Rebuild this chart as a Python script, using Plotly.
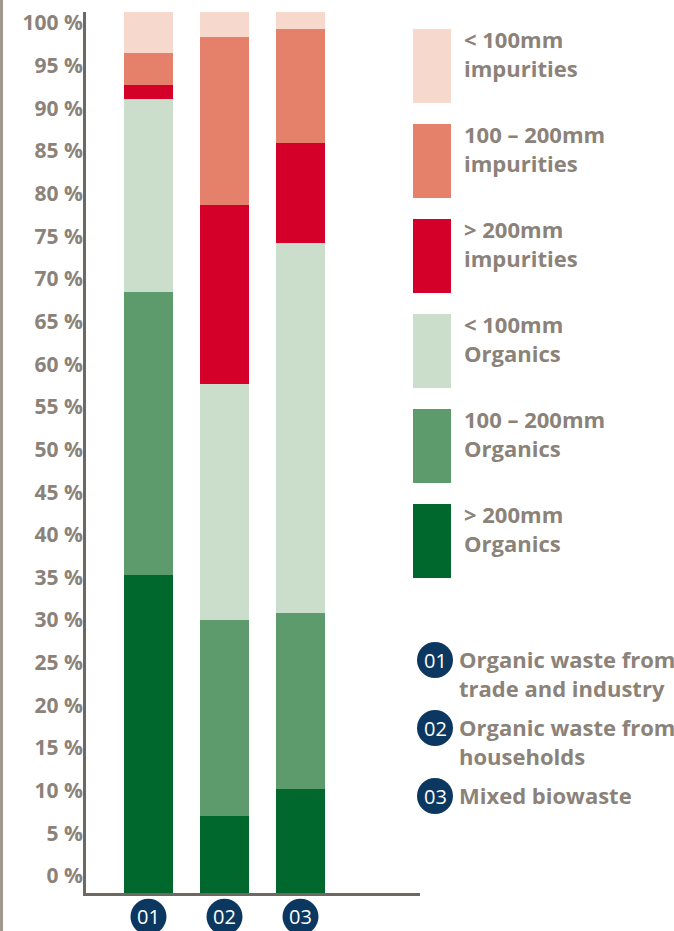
import plotly.graph_objects as go

# ---------------- data ----------------
categories = ["01", "02", "03"]

organics_over_200 = [36.1, 8.7, 11.8]
organics_100_200 = [32.1, 22.3, 20.0]
organics_under_100 = [21.9, 26.8, 42.0]
impurities_over_200 = [1.6, 20.3, 11.3]
impurities_100_200 = [3.6, 19.1, 13.0]
impurities_under_100 = [4.7, 2.8, 1.9]

series_names = [
    "> 200mm<br>Organics",
    "100 – 200mm<br>Organics",
    "< 100mm<br>Organics",
    "> 200mm<br>impurities",
    "100 – 200mm<br>impurities",
    "< 100mm<br>impurities",
]
series_values = [
    organics_over_200,
    organics_100_200,
    organics_under_100,
    impurities_over_200,
    impurities_100_200,
    impurities_under_100,
]
series_colors = ["#00682c", "#5e9b6c", "#cbdecb", "#d50029", "#e5806a", "#f6d8cd"]

source_labels = [
    "Organic waste from<br>trade and industry",
    "Organic waste from<br>households",
    "Mixed biowaste",
]

# ---------------- styling ----------------
W, H = 674, 931
PLOT_L, PLOT_R, PLOT_T, PLOT_B = 86, 420, 12, 893
TEXT = "#8b8279"
AXIS = "#6e6862"
NAVY = "#0b3760"
FONT = "Open Sans"


def px_x(px):
    return (px - PLOT_L) / (PLOT_R - PLOT_L)


def px_y(py):
    return (PLOT_B - py) / (PLOT_B - PLOT_T)


fig = go.Figure()

for name, vals, col in zip(series_names, series_values, series_colors):
    fig.add_trace(go.Bar(
        x=categories, y=vals, name=name.replace("<br>", " "),
        marker=dict(color=col, line=dict(width=0)),
        width=0.645, showlegend=False,
    ))

# invisible trace that carries the tick-label axis
totals = [sum(v) for v in zip(*series_values)]
fig.add_trace(go.Scatter(
    x=categories, y=totals, yaxis="y2", mode="markers",
    marker=dict(opacity=0), showlegend=False, hoverinfo="skip",
))

shapes = []
annotations = []

# left page stripe
shapes.append(dict(type="rect", xref="paper", yref="paper",
                   x0=px_x(0), x1=px_x(3), y0=px_y(H + 5), y1=px_y(-5),
                   fillcolor="#a0988a", line=dict(width=0), layer="below"))

# category badges below the x axis (category axis positions by index)
BADGE_CY = 916.7
for idx, cat in enumerate(categories):
    shapes.append(dict(type="circle", xref="x", yref="paper",
                       xsizemode="pixel", xanchor=idx, x0=-18, x1=18,
                       ysizemode="pixel", yanchor=px_y(BADGE_CY), y0=-18, y1=18,
                       fillcolor=NAVY, line=dict(width=0)))
    annotations.append(dict(xref="x", yref="paper", x=idx, y=px_y(BADGE_CY),
                            xanchor="center", yanchor="middle", showarrow=False,
                            text=cat, font=dict(family=FONT, size=20, color="white")))

# series legend (top to bottom = top of stack first)
for i, (name, col) in enumerate(zip(series_names[::-1], series_colors[::-1])):
    top = 29 + 95 * i
    shapes.append(dict(type="rect", xref="paper", yref="paper",
                       x0=px_x(413), x1=px_x(451), y0=px_y(top + 74), y1=px_y(top),
                       fillcolor=col, line=dict(width=0)))
    annotations.append(dict(xref="paper", yref="paper", x=px_x(463), y=px_y(top - 6),
                            xanchor="left", yanchor="top", align="left", showarrow=False,
                            text=name, borderpad=0,
                            font=dict(family=FONT, size=22, color=TEXT, weight="bold")))

# source legend
for i, (cat, lab) in enumerate(zip(categories, source_labels)):
    cy = [660, 728, 796][i]
    shapes.append(dict(type="circle", xref="paper", yref="paper",
                       x0=px_x(417), x1=px_x(453), y0=px_y(cy + 18), y1=px_y(cy - 18),
                       fillcolor=NAVY, line=dict(width=0)))
    annotations.append(dict(xref="paper", yref="paper", x=px_x(435), y=px_y(cy),
                            xanchor="center", yanchor="middle", showarrow=False,
                            text=cat, font=dict(family=FONT, size=20, color="white")))
    annotations.append(dict(xref="paper", yref="paper", x=px_x(458), y=px_y(cy - 17),
                            xanchor="left", yanchor="top", align="left", showarrow=False,
                            text=lab, borderpad=0,
                            font=dict(family=FONT, size=22, color=TEXT, weight="bold")))

fig.update_layout(
    width=W, height=H,
    margin=dict(l=PLOT_L, r=W - PLOT_R, t=PLOT_T, b=H - PLOT_B, pad=0, autoexpand=False),
    paper_bgcolor="white", plot_bgcolor="rgba(0,0,0,0)",
    barmode="stack",
    showlegend=False,
    shapes=shapes,
    annotations=annotations,
    xaxis=dict(type="category", range=[-0.822, 3.572], showline=True,
               linecolor=AXIS, linewidth=2.5, showticklabels=False,
               showgrid=False, zeroline=False, ticks="", automargin=False),
    yaxis=dict(range=[0, 100], showline=True, linecolor=AXIS, linewidth=2.5,
               showticklabels=False, showgrid=False, zeroline=False, ticks="",
               automargin=False),
    yaxis2=dict(range=[0, 100], domain=[px_y(876), px_y(23)], anchor="free",
                position=0, side="left", showline=False, showgrid=False,
                zeroline=False, ticks="", tick0=0, dtick=5, ticksuffix=" %",
                ticklabelstandoff=3, automargin=False,
                tickfont=dict(family=FONT, size=21, color=TEXT, weight="bold")),
)

fig.write_html("out.html", config={"displayModeBar": False},
               post_script="document.body.style.margin='0';")
